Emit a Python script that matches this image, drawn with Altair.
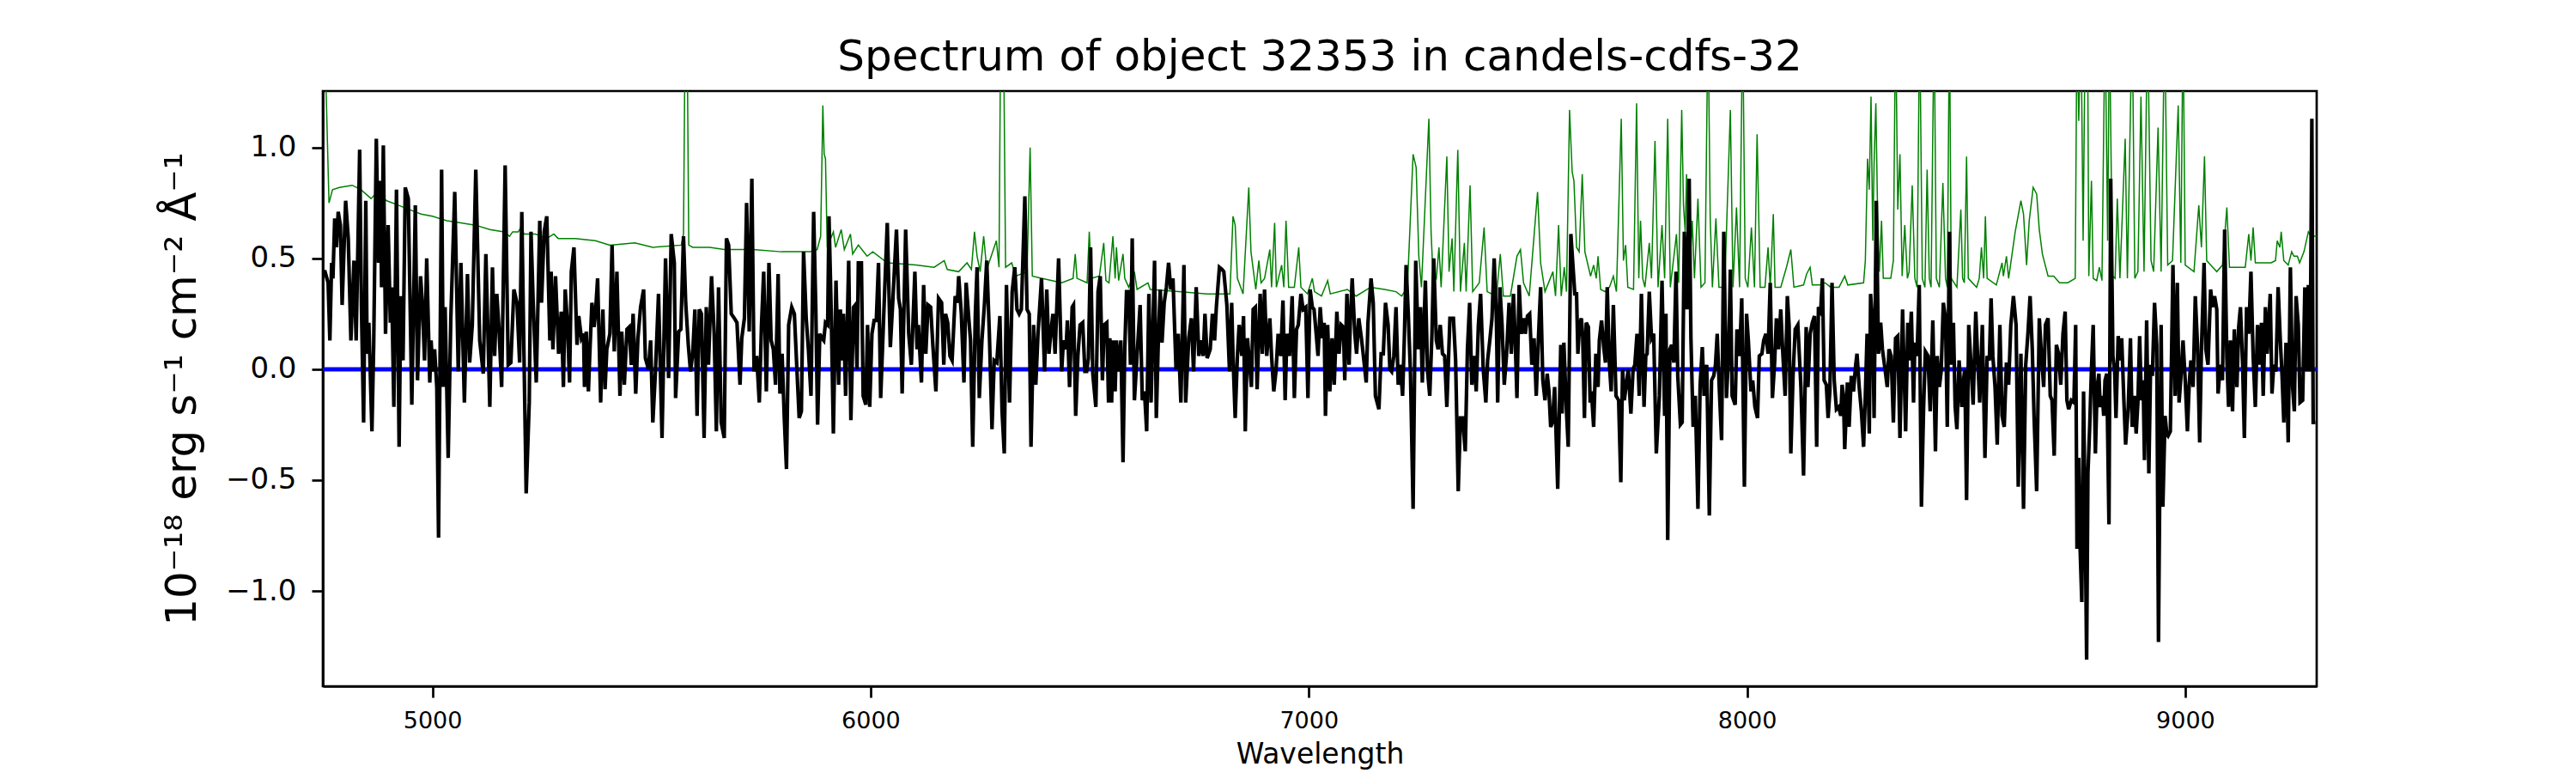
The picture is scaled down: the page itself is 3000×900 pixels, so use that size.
import altair as alt
import pandas as pd

# ---------------- data ----------------
# Object flux (black), (wavelength [A], flux [1e-18 erg/s/cm2/A])
flux_4750_5330 = [
    (4751, 0.44), (4755, 0.44), (4762, 0.39), (4766, 0.13), (4770, 0.48), (4773, 0.41), (4777, 0.68),
    (4781, 0.55), (4785, 0.71), (4790, 0.65), (4794, 0.29), (4802, 0.76), (4808, 0.59), (4814, 0.13),
    (4821, 0.49), (4826, 0.13), (4834, 0.99), (4838, 0.28), (4843, -0.24), (4848, 0.76), (4851, 0.07),
    (4855, 0.21), (4862, -0.28), (4866, 0.11), (4872, 1.04), (4877, 0.48), (4881, 0.85), (4884, 0.37),
    (4888, 1.01), (4893, 0.16), (4899, 0.65), (4904, 0.21), (4907, 0.37), (4912, -0.17), (4918, 0.81),
    (4924, -0.35), (4928, 0.33), (4933, 0.04), (4938, 0.82), (4945, 0.77), (4953, -0.16), (4961, 0.74),
    (4966, -0.05), (4973, 0.42), (4977, 0.30), (4982, 0.04), (4987, 0.50), (4994, -0.06), (4997, 0.13),
    (5001, -0.01), (5005, 0.09), (5010, -0.08), (5014, -0.76), (5021, 0.90), (5025, -0.08), (5029, 0.28),
    (5036, -0.40), (5042, 0.23), (5051, 0.80), (5059, -0.01), (5065, 0.48), (5073, -0.15), (5080, 0.43),
    (5085, 0.03), (5091, 0.20), (5099, 0.90), (5108, 0.13), (5116, -0.02), (5122, 0.52), (5131, -0.17),
    (5137, 0.46), (5142, 0.06), (5147, 0.34), (5152, 0.18), (5158, -0.08), (5166, 0.92), (5173, 0.02),
    (5179, 0.03), (5186, 0.36), (5193, 0.30), (5199, 0.03), (5204, 0.71), (5209, 0.06), (5214, -0.56),
    (5221, -0.15), (5225, 0.62), (5230, 0.30), (5237, -0.06), (5245, 0.67), (5249, 0.30), (5255, 0.62),
    (5261, 0.69), (5268, 0.13), (5271, 0.44), (5275, 0.09), (5281, 0.42), (5288, 0.07), (5294, 0.26),
    (5299, -0.08), (5303, 0.36), (5308, 0.21), (5313, -0.06), (5317, 0.44), (5323, 0.55),
]
flux_5330_5890 = [
    (5330, 0.11), (5334, 0.24), (5340, 0.14), (5345, 0.16), (5347, -0.08), (5351, 0.17), (5356, -0.10),
    (5359, 0.06), (5364, 0.30), (5369, 0.19), (5372, 0.25), (5377, 0.41), (5384, -0.15), (5389, 0.27),
    (5394, -0.09), (5398, 0.09), (5405, 0.16), (5410, 0.56), (5415, 0.08), (5421, 0.44), (5428, -0.12),
    (5432, 0.17), (5438, -0.07), (5444, 0.18), (5449, 0.19), (5454, 0.02), (5458, 0.25), (5464, -0.11),
    (5469, 0.14), (5475, 0.28), (5482, 0.36), (5486, 0.05), (5493, 0.00), (5498, 0.13), (5503, -0.24),
    (5509, -0.01), (5516, 0.34), (5524, -0.31), (5532, 0.50), (5539, -0.04), (5545, 0.61), (5552, 0.48),
    (5555, -0.13), (5562, 0.17), (5567, 0.18), (5573, 0.60), (5578, 0.30), (5584, 0.11), (5589, -0.01),
    (5594, 0.07), (5599, 0.27), (5604, -0.21), (5609, 0.27), (5614, 0.25), (5620, -0.31), (5625, 0.28),
    (5630, 0.02), (5637, 0.42), (5643, 0.16), (5648, -0.28), (5653, 0.37), (5659, -0.24), (5666, -0.31),
    (5671, 0.59), (5676, 0.56), (5682, 0.25), (5689, 0.23), (5695, 0.21), (5702, -0.07), (5706, 0.14),
    (5712, 0.23), (5717, 0.75), (5723, 0.17), (5729, 0.86), (5734, -0.01), (5740, 0.06), (5746, -0.15),
    (5751, 0.20), (5756, 0.44), (5762, -0.10), (5768, 0.48), (5773, 0.13), (5778, 0.09), (5783, -0.07),
    (5789, 0.43), (5793, -0.11), (5798, 0.07), (5803, -0.22), (5808, -0.45), (5813, 0.20), (5820, 0.28),
    (5826, 0.25), (5832, -0.01), (5837, -0.22), (5842, -0.19), (5847, 0.53), (5853, 0.23), (5858, 0.09),
    (5864, -0.12), (5870, 0.71), (5875, 0.27), (5879, -0.25), (5884, 0.16), (5889, 0.14),
]
flux_5890_6460 = [
    (5893, 0.13), (5897, 0.21), (5902, 0.20), (5905, 0.69), (5910, 0.27), (5915, -0.29), (5921, 0.40),
    (5927, -0.07), (5931, 0.27), (5935, 0.04), (5938, 0.25), (5943, -0.12), (5950, 0.49), (5955, -0.23),
    (5961, 0.28), (5965, 0.29), (5969, 0.00), (5972, 0.48), (5979, 0.48), (5983, -0.12), (5989, -0.16),
    (5993, 0.20), (5998, -0.17), (6003, 0.16), (6008, 0.22), (6013, 0.22), (6018, 0.48), (6023, -0.13),
    (6031, 0.30), (6038, 0.66), (6045, 0.10), (6051, 0.32), (6059, 0.63), (6064, 0.32), (6068, 0.27),
    (6072, -0.11), (6080, 0.63), (6087, 0.16), (6093, 0.02), (6101, 0.44), (6106, 0.09), (6109, 0.20),
    (6116, -0.06), (6121, 0.38), (6126, 0.07), (6131, 0.29), (6137, 0.28), (6142, 0.11), (6149, -0.10),
    (6155, 0.32), (6162, 0.30), (6167, 0.02), (6171, 0.25), (6176, 0.21), (6181, 0.06), (6186, 0.04),
    (6193, 0.33), (6198, 0.30), (6201, 0.42), (6207, 0.25), (6213, -0.06), (6218, 0.39), (6224, 0.23),
    (6228, 0.13), (6233, -0.35), (6239, 0.25), (6243, 0.46), (6248, -0.13), (6254, 0.13), (6260, 0.30),
    (6265, 0.49), (6271, 0.16), (6277, -0.27), (6282, 0.04), (6288, 0.03), (6295, 0.24), (6300, -0.19),
    (6305, -0.38), (6310, 0.38), (6317, -0.15), (6323, 0.35), (6329, 0.46), (6334, 0.27), (6339, 0.25),
    (6344, 0.27), (6352, 0.78), (6357, 0.27), (6362, 0.25), (6366, -0.35), (6372, 0.20), (6377, -0.07),
    (6382, 0.16), (6390, 0.41), (6397, -0.01), (6402, 0.36), (6407, 0.07), (6411, 0.16), (6416, 0.25),
    (6421, 0.07), (6429, 0.50), (6436, -0.01), (6440, 0.13), (6446, 0.09), (6449, 0.22), (6454, -0.08),
    (6460, 0.28),
]
flux_6460_7030 = [
    (6463, 0.29), (6468, -0.21), (6473, 0.06), (6478, 0.20), (6484, 0.21), (6489, -0.01), (6493, -0.01),
    (6497, 0.05), (6502, 0.55), (6507, -0.02), (6514, -0.17), (6519, 0.35), (6524, 0.42), (6529, -0.05),
    (6533, 0.20), (6539, 0.21), (6543, -0.15), (6546, 0.14), (6550, -0.15), (6553, 0.13), (6558, -0.10),
    (6561, 0.13), (6566, -0.01), (6571, 0.13), (6576, -0.42), (6580, 0.09), (6584, 0.35), (6589, 0.35),
    (6593, 0.02), (6597, 0.59), (6602, -0.14), (6608, 0.06), (6615, 0.29), (6620, -0.14), (6625, -0.10),
    (6630, -0.28), (6635, 0.34), (6640, -0.15), (6648, 0.49), (6652, -0.22), (6657, 0.16), (6661, 0.36),
    (6665, 0.12), (6670, 0.30), (6675, 0.37), (6680, 0.48), (6685, 0.36), (6690, 0.41), (6697, 0.00),
    (6702, 0.16), (6708, -0.15), (6715, 0.47), (6719, -0.15), (6726, 0.14), (6732, 0.23), (6737, -0.01),
    (6743, 0.37), (6749, 0.06), (6754, 0.13), (6759, 0.06), (6763, 0.25), (6768, 0.05), (6775, 0.09),
    (6780, 0.25), (6785, 0.13), (6789, 0.28), (6796, 0.46), (6802, 0.45), (6806, 0.44), (6813, 0.29),
    (6819, -0.01), (6824, 0.30), (6827, 0.06), (6832, -0.22), (6837, 0.06), (6841, 0.20), (6847, 0.06),
    (6851, 0.24), (6855, -0.28), (6860, 0.14), (6865, 0.02), (6869, -0.08), (6873, 0.27), (6878, 0.28),
    (6882, -0.09), (6889, 0.34), (6894, 0.07), (6899, 0.36), (6904, 0.06), (6911, 0.23), (6915, 0.06),
    (6920, -0.10), (6925, -0.01), (6930, 0.16), (6936, 0.06), (6941, 0.31), (6946, -0.14), (6950, 0.16),
    (6956, 0.06), (6962, 0.33), (6967, -0.13), (6972, 0.18), (6976, 0.20), (6982, 0.34), (6987, 0.27),
    (6993, 0.28), (6998, -0.13), (7003, 0.36), (7008, 0.28), (7012, 0.27), (7016, 0.18), (7021, 0.06),
    (7026, 0.28),
]
flux_7030_7600 = [
    (7031, 0.14), (7035, 0.21), (7038, -0.21), (7043, 0.20), (7048, -0.10), (7053, 0.14), (7058, -0.07),
    (7064, 0.26), (7069, 0.07), (7074, 0.20), (7079, 0.19), (7082, -0.05), (7087, 0.34), (7092, 0.02),
    (7095, 0.23), (7099, 0.41), (7105, 0.16), (7109, 0.07), (7114, 0.23), (7120, 0.14), (7124, 0.07),
    (7131, -0.06), (7135, 0.21), (7142, 0.41), (7147, 0.30), (7152, -0.12), (7160, -0.18), (7165, 0.07),
    (7170, 0.07), (7175, 0.30), (7181, 0.20), (7185, 0.00), (7189, -0.01), (7194, 0.06), (7199, 0.28),
    (7204, -0.07), (7209, 0.02), (7214, -0.12), (7218, 0.14), (7222, 0.47), (7227, 0.25), (7232, -0.02),
    (7238, -0.63), (7244, 0.49), (7250, 0.09), (7255, 0.28), (7259, -0.06), (7266, 0.40), (7271, -0.01),
    (7276, -0.12), (7281, 0.16), (7285, 0.50), (7291, 0.13), (7295, 0.09), (7300, 0.20), (7305, 0.07),
    (7310, 0.06), (7315, -0.17), (7322, 0.23), (7330, 0.23), (7335, 0.04), (7341, -0.55), (7346, -0.22),
    (7351, -0.22), (7357, -0.37), (7362, 0.09), (7367, 0.30), (7372, -0.07), (7377, 0.06), (7382, -0.10),
    (7387, 0.20), (7392, 0.34), (7398, 0.00), (7404, -0.15), (7408, 0.04), (7413, 0.13), (7418, 0.23),
    (7423, 0.50), (7428, 0.23), (7431, -0.15), (7436, 0.37), (7441, 0.20), (7446, -0.07), (7451, 0.06),
    (7457, 0.30), (7462, 0.07), (7467, 0.34), (7471, 0.13), (7475, -0.13), (7480, 0.38), (7485, 0.16),
    (7490, 0.23), (7494, 0.16), (7499, 0.24), (7504, 0.25), (7509, 0.02), (7514, 0.14), (7519, -0.12),
    (7524, 0.14), (7529, 0.37), (7534, -0.05), (7539, -0.14), (7544, -0.02), (7548, -0.10), (7552, -0.26),
    (7556, -0.24), (7561, -0.08), (7568, -0.54), (7575, 0.11), (7578, -0.20), (7582, 0.12), (7588, -0.19),
    (7592, -0.35), (7598, 0.61),
]
flux_7600_8165 = [
    (7607, 0.34), (7611, 0.34), (7614, 0.07), (7618, 0.20), (7622, 0.23), (7625, 0.15), (7629, -0.22),
    (7633, 0.21), (7638, 0.19), (7642, -0.15), (7645, -0.10), (7650, -0.26), (7655, 0.07), (7660, -0.08),
    (7663, 0.13), (7668, 0.22), (7673, 0.10), (7677, 0.03), (7681, 0.37), (7686, 0.02), (7690, -0.10),
    (7695, 0.29), (7701, -0.12), (7707, -0.14), (7712, -0.51), (7716, 0.00), (7720, -0.14), (7725, -0.06),
    (7729, 0.00), (7735, -0.20), (7740, 0.00), (7744, 0.02), (7749, 0.16), (7754, -0.12), (7759, 0.34),
    (7765, -0.17), (7769, 0.06), (7772, 0.07), (7777, 0.35), (7782, 0.14), (7787, 0.16), (7793, -0.38),
    (7800, -0.12), (7806, 0.40), (7812, -0.21), (7815, 0.25), (7819, -0.77), (7824, 0.09), (7828, 0.11),
    (7833, 0.03), (7838, 0.44), (7842, -0.03), (7848, -0.25), (7852, -0.24), (7857, 0.62), (7863, 0.27),
    (7868, 0.86), (7872, 0.14), (7877, -0.26), (7882, -0.12), (7888, -0.63), (7893, -0.07), (7898, 0.10),
    (7902, -0.12), (7908, 0.02), (7914, -0.66), (7919, -0.05), (7924, -0.03), (7928, 0.02), (7932, 0.16),
    (7937, -0.10), (7942, -0.32), (7947, 0.62), (7953, -0.13), (7958, 0.07), (7962, 0.45), (7966, -0.12),
    (7973, -0.16), (7977, 0.18), (7983, 0.06), (7988, 0.32), (7994, -0.53), (7999, 0.25), (8003, 0.13),
    (8009, -0.10), (8013, -0.05), (8018, -0.17), (8024, -0.22), (8028, 0.06), (8034, 0.07), (8038, 0.13),
    (8043, 0.16), (8048, 0.07), (8053, 0.39), (8058, -0.13), (8063, 0.03), (8067, 0.23), (8072, 0.09),
    (8077, 0.27), (8082, 0.06), (8087, -0.12), (8092, 0.33), (8096, 0.20), (8100, -0.38), (8105, -0.03),
    (8110, 0.18), (8116, 0.20), (8123, -0.08), (8129, -0.48), (8135, 0.19), (8139, -0.08), (8144, 0.16),
    (8149, 0.21), (8154, 0.24), (8159, -0.35), (8163, 0.28),
]
flux_8165_8730 = [
    (8168, 0.26), (8172, 0.41), (8176, -0.05), (8181, -0.07), (8185, -0.22), (8189, -0.10), (8194, 0.39),
    (8199, -0.05), (8204, -0.18), (8209, -0.17), (8214, -0.21), (8217, -0.07), (8220, -0.12), (8223, -0.36),
    (8229, -0.06), (8233, -0.26), (8238, -0.03), (8243, -0.10), (8248, 0.02), (8251, 0.07), (8256, -0.08),
    (8261, -0.19), (8266, -0.35), (8270, -0.12), (8274, 0.16), (8279, -0.29), (8282, 0.34), (8287, 0.18),
    (8290, -0.22), (8295, 0.76), (8300, 0.07), (8305, 0.21), (8309, 0.09), (8315, 0.00), (8320, -0.08),
    (8324, 0.09), (8329, 0.06), (8334, -0.24), (8339, 0.14), (8344, 0.15), (8349, -0.31), (8355, 0.27),
    (8362, -0.28), (8367, 0.21), (8370, 0.04), (8375, 0.26), (8380, -0.15), (8383, 0.12), (8388, 0.06),
    (8393, 0.38), (8398, -0.62), (8403, -0.17), (8407, 0.08), (8413, 0.06), (8418, -0.19), (8424, 0.22),
    (8430, -0.37), (8434, 0.06), (8439, -0.08), (8443, -0.01), (8448, 0.30), (8453, 0.23), (8457, -0.26),
    (8462, 0.62), (8466, 0.02), (8471, 0.21), (8475, -0.17), (8479, -0.27), (8484, 0.04), (8490, -0.17),
    (8494, -0.05), (8497, 0.00), (8501, -0.59), (8506, 0.20), (8510, 0.06), (8516, -0.16), (8522, 0.26),
    (8527, 0.02), (8531, -0.15), (8537, 0.20), (8543, -0.40), (8548, 0.06), (8553, 0.04), (8557, 0.32),
    (8561, 0.06), (8566, -0.08), (8571, -0.34), (8577, 0.20), (8582, -0.21), (8587, -0.26), (8592, 0.03),
    (8597, -0.07), (8602, 0.20), (8608, 0.33), (8614, 0.20), (8619, -0.53), (8625, 0.07), (8631, -0.63),
    (8636, 0.02), (8641, 0.16), (8646, 0.33), (8651, 0.09), (8655, -0.21), (8661, -0.55), (8667, 0.23),
    (8672, 0.06), (8677, -0.08), (8681, 0.20), (8687, 0.23), (8692, -0.12), (8696, -0.14), (8701, -0.39),
    (8706, 0.11), (8711, 0.07), (8716, -0.07), (8721, 0.16), (8726, 0.26), (8730, -0.14),
]
flux_8730_9300 = [
    (8734, -0.18), (8740, -0.14), (8746, -0.15), (8750, 0.20), (8753, -0.81), (8757, -0.40), (8760, -0.80),
    (8764, -1.05), (8768, -0.10), (8772, -0.73), (8775, -1.31), (8778, -0.47), (8782, -0.26), (8786, 0.00),
    (8790, 0.20), (8795, -0.38), (8799, -0.08), (8803, -0.02), (8806, -0.17), (8811, -0.12), (8814, -0.21),
    (8817, -0.05), (8821, -0.02), (8826, -0.70), (8830, 0.86), (8835, 0.06), (8839, -0.01), (8842, -0.22),
    (8847, 0.15), (8851, 0.04), (8855, 0.14), (8860, -0.14), (8864, -0.34), (8870, -0.17), (8875, 0.14),
    (8879, -0.26), (8884, -0.12), (8888, -0.29), (8892, -0.15), (8896, 0.15), (8900, -0.14), (8904, -0.05),
    (8907, -0.41), (8912, 0.22), (8917, -0.47), (8921, 0.02), (8925, -0.03), (8930, 0.30), (8935, 0.11),
    (8939, -1.23), (8945, 0.20), (8949, -0.62), (8954, -0.21), (8958, -0.29), (8961, -0.30), (8966, -0.28),
    (8972, 0.47), (8977, -0.12), (8982, 0.39), (8986, -0.15), (8990, -0.04), (8995, 0.13), (9000, -0.05),
    (9005, -0.28), (9009, -0.07), (9013, 0.04), (9018, -0.08), (9023, 0.33), (9028, 0.11), (9033, -0.33),
    (9037, 0.09), (9043, 0.48), (9047, 0.09), (9052, 0.02), (9058, 0.36), (9062, 0.28), (9067, 0.33),
    (9072, 0.27), (9075, -0.11), (9080, 0.02), (9085, -0.05), (9090, 0.63), (9095, 0.05), (9099, -0.17),
    (9103, 0.13), (9108, -0.19), (9112, 0.18), (9118, -0.08), (9122, 0.19), (9126, 0.28), (9131, 0.02),
    (9135, -0.31), (9140, 0.28), (9145, 0.16), (9150, 0.44), (9155, 0.06), (9160, -0.17), (9165, 0.20),
    (9170, 0.02), (9174, 0.21), (9178, -0.12), (9183, 0.28), (9187, 0.07), (9194, 0.34), (9198, -0.11),
    (9202, 0.02), (9207, -0.01), (9212, 0.37), (9217, 0.13), (9221, -0.03), (9225, -0.24), (9230, 0.12),
    (9235, -0.33), (9240, 0.46), (9245, -0.08), (9249, -0.19), (9253, 0.33), (9258, 0.20), (9262, -0.15),
    (9268, -0.14), (9273, 0.37), (9278, -0.01), (9281, 0.38), (9285, -0.01), (9289, 1.13), (9292, -0.24),
    (9297, -0.24),
]

# Noise / sky spectrum (green); values above the axis top are clipped in the picture
noise_4750_5330 = [
    (4751, 1.60), (4753, 1.60), (4764, 0.75), (4772, 0.81), (4788, 0.82), (4817, 0.83), (4837, 0.81),
    (4860, 0.77), (4870, 0.79), (4896, 0.76), (4922, 0.74), (4948, 0.72), (4974, 0.70), (5000, 0.69),
    (5033, 0.67), (5065, 0.66), (5098, 0.65), (5131, 0.63), (5163, 0.62), (5176, 0.60), (5183, 0.62),
    (5196, 0.62), (5202, 0.64), (5209, 0.61), (5235, 0.61), (5261, 0.59), (5277, 0.61), (5287, 0.59),
    (5326, 0.59),
]
noise_5330_5890 = [
    (5372, 0.58), (5405, 0.56), (5462, 0.57), (5503, 0.55), (5568, 0.56), (5573, 0.61), (5577, 1.60),
    (5581, 1.60), (5585, 0.56), (5594, 0.55), (5633, 0.55), (5666, 0.54), (5731, 0.54), (5796, 0.53),
    (5862, 0.53), (5878, 0.54), (5886, 0.60),
]
noise_5890_6460 = [
    (5891, 1.19), (5894, 0.97), (5897, 0.95), (5901, 0.55), (5915, 0.62), (5920, 0.55), (5933, 0.63),
    (5940, 0.54), (5954, 0.61), (5959, 0.52), (5972, 0.56), (5992, 0.51), (6005, 0.53), (6038, 0.48),
    (6103, 0.47), (6145, 0.46), (6168, 0.49), (6175, 0.45), (6201, 0.44), (6220, 0.48), (6230, 0.45),
    (6237, 0.62), (6243, 0.51), (6250, 0.44), (6258, 0.60), (6265, 0.45), (6287, 0.58), (6293, 0.46),
    (6297, 1.60), (6303, 1.60), (6308, 0.46), (6322, 0.48), (6331, 0.42), (6357, 0.44), (6364, 1.00),
    (6369, 0.42), (6390, 0.41), (6436, 0.39), (6462, 0.41),
]
noise_6460_7030 = [
    (6467, 0.52), (6471, 0.41), (6494, 0.39), (6499, 0.62), (6504, 0.41), (6522, 0.42), (6532, 0.57),
    (6537, 0.40), (6544, 0.39), (6553, 0.60), (6558, 0.41), (6561, 0.55), (6566, 0.40), (6576, 0.52),
    (6580, 0.41), (6589, 0.37), (6602, 0.44), (6608, 0.36), (6633, 0.39), (6638, 0.36), (6703, 0.35),
    (6768, 0.34), (6820, 0.34), (6827, 0.69), (6832, 0.65), (6837, 0.41), (6850, 0.34), (6863, 0.82),
    (6868, 0.53), (6879, 0.36), (6886, 0.49), (6891, 0.39), (6899, 0.41), (6911, 0.54), (6915, 0.37),
    (6922, 0.66), (6926, 0.37), (6938, 0.47), (6943, 0.37), (6948, 0.67), (6954, 0.37), (6967, 0.37),
    (6977, 0.55), (6982, 0.37), (6997, 0.34), (7008, 0.41), (7013, 0.35), (7029, 0.33),
]
noise_7030_7600 = [
    (7043, 0.40), (7049, 0.34), (7088, 0.36), (7108, 0.33), (7141, 0.37), (7173, 0.36), (7199, 0.35),
    (7212, 0.33), (7225, 0.37), (7238, 0.97), (7245, 0.91), (7251, 0.51), (7257, 0.37), (7274, 1.13),
    (7279, 0.62), (7283, 0.44), (7291, 0.41), (7297, 0.55), (7302, 0.37), (7315, 0.96), (7320, 0.44),
    (7327, 0.59), (7331, 0.35), (7340, 0.99), (7346, 0.35), (7355, 0.57), (7359, 0.35), (7368, 0.83),
    (7374, 0.35), (7389, 0.39), (7400, 0.64), (7407, 0.35), (7428, 0.33), (7437, 0.52), (7444, 0.33),
    (7460, 0.33), (7475, 0.51), (7483, 0.54), (7490, 0.39), (7503, 0.33), (7522, 0.80), (7529, 0.48),
    (7539, 0.35), (7557, 0.44), (7563, 0.33), (7570, 0.65), (7576, 0.33), (7583, 0.46), (7588, 0.35),
    (7595, 1.17),
]
noise_7600_8165 = [
    (7601, 0.89), (7605, 0.85), (7611, 0.55), (7617, 0.53), (7624, 0.88), (7630, 0.53), (7643, 0.42),
    (7650, 0.47), (7656, 0.41), (7660, 0.51), (7666, 0.36), (7676, 0.35), (7686, 0.37), (7695, 0.42),
    (7702, 0.35), (7713, 1.13), (7718, 0.49), (7723, 0.56), (7728, 0.37), (7741, 0.36), (7748, 1.20),
    (7753, 0.41), (7757, 0.67), (7762, 0.41), (7767, 0.37), (7777, 0.57), (7782, 0.41), (7790, 1.03),
    (7797, 0.37), (7806, 0.65), (7812, 0.41), (7819, 1.13), (7825, 0.37), (7839, 0.61), (7844, 0.39),
    (7851, 1.17), (7855, 0.74), (7859, 0.62), (7862, 0.88), (7868, 0.39), (7875, 0.67), (7880, 0.41),
    (7888, 0.77), (7895, 0.37), (7904, 0.39), (7911, 1.60), (7916, 0.68), (7921, 0.37), (7929, 0.68),
    (7936, 0.37), (7949, 0.37), (7962, 1.17), (7968, 0.37), (7976, 0.73), (7983, 0.37), (7990, 1.60),
    (7996, 0.41), (8002, 0.37), (8010, 0.64), (8017, 0.37), (8023, 1.06), (8030, 0.37), (8041, 0.37),
    (8048, 0.55), (8053, 0.37), (8060, 0.70), (8064, 0.37), (8077, 0.37), (8090, 0.46), (8100, 0.54),
    (8107, 0.37), (8129, 0.38), (8136, 0.43), (8144, 0.46), (8149, 0.38), (8165, 0.38),
]
noise_8165_8730 = [
    (8178, 0.39), (8191, 0.37), (8210, 0.37), (8223, 0.42), (8230, 0.38), (8266, 0.39), (8270, 0.49),
    (8275, 0.95), (8279, 0.81), (8283, 1.23), (8287, 0.58), (8290, 0.93), (8294, 1.20), (8298, 0.70),
    (8302, 0.44), (8307, 0.67), (8311, 0.41), (8328, 0.41), (8334, 0.49), (8339, 1.60), (8344, 0.72),
    (8349, 0.97), (8354, 0.42), (8360, 0.65), (8366, 0.41), (8370, 0.44), (8377, 0.83), (8383, 0.41),
    (8388, 0.37), (8394, 1.60), (8400, 0.41), (8406, 0.37), (8411, 0.90), (8416, 0.41), (8420, 0.37),
    (8427, 1.60), (8432, 0.41), (8439, 0.37), (8447, 0.84), (8453, 0.41), (8457, 0.37), (8462, 1.60),
    (8466, 0.41), (8479, 0.37), (8488, 0.72), (8492, 0.41), (8496, 0.39), (8501, 0.96), (8505, 0.41),
    (8524, 0.37), (8530, 0.41), (8535, 0.55), (8540, 0.41), (8544, 0.69), (8548, 0.41), (8569, 0.38),
    (8582, 0.48), (8585, 0.42), (8592, 0.51), (8597, 0.41), (8602, 0.48), (8612, 0.62), (8625, 0.76),
    (8631, 0.70), (8638, 0.47), (8644, 0.67), (8653, 0.82), (8661, 0.79), (8667, 0.63), (8674, 0.52),
    (8687, 0.42), (8700, 0.42), (8713, 0.39), (8732, 0.39),
]
noise_8730_9300 = [
    (8749, 0.41), (8753, 1.60), (8757, 1.12), (8762, 1.60), (8767, 0.58), (8772, 1.60), (8777, 1.60),
    (8780, 0.42), (8786, 0.85), (8790, 0.41), (8798, 0.40), (8804, 0.46), (8810, 0.40), (8817, 1.60),
    (8823, 0.58), (8827, 1.60), (8834, 0.42), (8840, 0.41), (8845, 0.77), (8851, 0.41), (8863, 1.04),
    (8868, 0.41), (8879, 1.60), (8885, 0.41), (8892, 0.44), (8899, 1.23), (8906, 0.44), (8914, 1.60),
    (8922, 0.49), (8928, 0.44), (8938, 1.09), (8945, 0.44), (8953, 1.60), (8960, 0.47), (8971, 0.49),
    (8984, 1.19), (8990, 0.48), (8995, 1.60), (9000, 0.47), (9020, 0.44), (9031, 0.74), (9037, 0.55),
    (9044, 0.96), (9049, 0.49), (9072, 0.44), (9085, 0.47), (9095, 0.73), (9101, 0.46), (9137, 0.46),
    (9145, 0.61), (9150, 0.49), (9155, 0.64), (9160, 0.48), (9196, 0.48), (9206, 0.49), (9210, 0.58),
    (9216, 0.55), (9219, 0.62), (9225, 0.49), (9235, 0.47), (9243, 0.53), (9248, 0.51), (9256, 0.51),
    (9261, 0.48), (9271, 0.53), (9281, 0.62), (9287, 0.60), (9300, 0.60),
]

zero_level = [0.0]
x_ticks = [5000, 6000, 7000, 8000, 9000]
y_ticks = [-1.0, -0.5, 0.0, 0.5, 1.0]
x_domain = [4750, 9300]
y_domain = [-1.43, 1.255]

title_text = "Spectrum of object 32353 in candels-cdfs-32"
y_title = "10\u207b\u00b9\u2078 erg s\u207b\u00b9 cm\u207b\u00b2 \u00c5\u207b\u00b9"
x_title = "Wavelength"

# ---------------- build tables ----------------
flux_parts = [flux_4750_5330, flux_5330_5890, flux_5890_6460, flux_6460_7030,
              flux_7030_7600, flux_7600_8165, flux_8165_8730, flux_8730_9300]
noise_parts = [noise_4750_5330, noise_5330_5890, noise_5890_6460, noise_6460_7030,
               noise_7030_7600, noise_7600_8165, noise_8165_8730, noise_8730_9300]

flux_df = pd.DataFrame([p for part in flux_parts for p in part], columns=["wave", "value"])
noise_df = pd.DataFrame([p for part in noise_parts for p in part], columns=["wave", "value"])
zero_df = pd.DataFrame({"value": zero_level})

FONT = "DejaVu Sans"
PLOT_W, PLOT_H = 2322, 693

x_enc = alt.X(
    "wave:Q",
    scale=alt.Scale(domain=x_domain, nice=False, zero=False),
    axis=alt.Axis(
        values=x_ticks, format="d", grid=False,
        labelFont=FONT, labelFontSize=27, labelColor="black", labelPadding=14,
        tickSize=13, tickWidth=2.7, tickColor="black",
        domainColor="black", domainWidth=2.7,
        title=x_title, titleFont=FONT, titleFontSize=33, titleFontWeight="normal",
        titleColor="black", titleX=PLOT_W / 2, titleY=89, titleAlign="center",
        titleBaseline="alphabetic",
    ),
)
y_enc = alt.Y(
    "value:Q",
    scale=alt.Scale(domain=y_domain, nice=False, zero=False),
    axis=alt.Axis(
        values=y_ticks, format=".1f", grid=False,
        labelFont=FONT, labelFontSize=34, labelColor="black", labelPadding=18,
        tickSize=13, tickWidth=2.7, tickColor="black",
        domainColor="black", domainWidth=2.7,
        title=y_title, titleFont=FONT, titleFontSize=50, titleFontWeight="normal",
        titleColor="black", titleX=-149, titleY=PLOT_H / 2, titleAngle=270,
        titleAlign="center", titleBaseline="alphabetic",
    ),
)

zero_line = alt.Chart(zero_df).mark_rule(color="#0000ff", strokeWidth=5).encode(
    y=alt.Y("value:Q", scale=alt.Scale(domain=y_domain, nice=False, zero=False))
)
noise_line = alt.Chart(noise_df).mark_line(
    color="#008000", strokeWidth=1.5, clip=True, interpolate="linear"
).encode(x=x_enc, y=y_enc)
flux_line = alt.Chart(flux_df).mark_line(
    color="#000000", strokeWidth=4.2, clip=True, interpolate="linear"
).encode(x=x_enc, y=y_enc)

chart = (
    alt.layer(zero_line, noise_line, flux_line)
    .properties(
        width=PLOT_W,
        height=PLOT_H,
        title=alt.TitleParams(
            text=title_text, font=FONT, fontSize=50, fontWeight="normal",
            color="black", anchor="middle", offset=14,
        ),
        autosize=alt.AutoSizeParams(type="none"),
        padding={"left": 368, "top": 98, "right": 290, "bottom": 100},
        background="white",
    )
    .configure_view(stroke="black", strokeWidth=2.7)
)

chart.save("out.html", embed_options={"renderer": "svg", "actions": False})
